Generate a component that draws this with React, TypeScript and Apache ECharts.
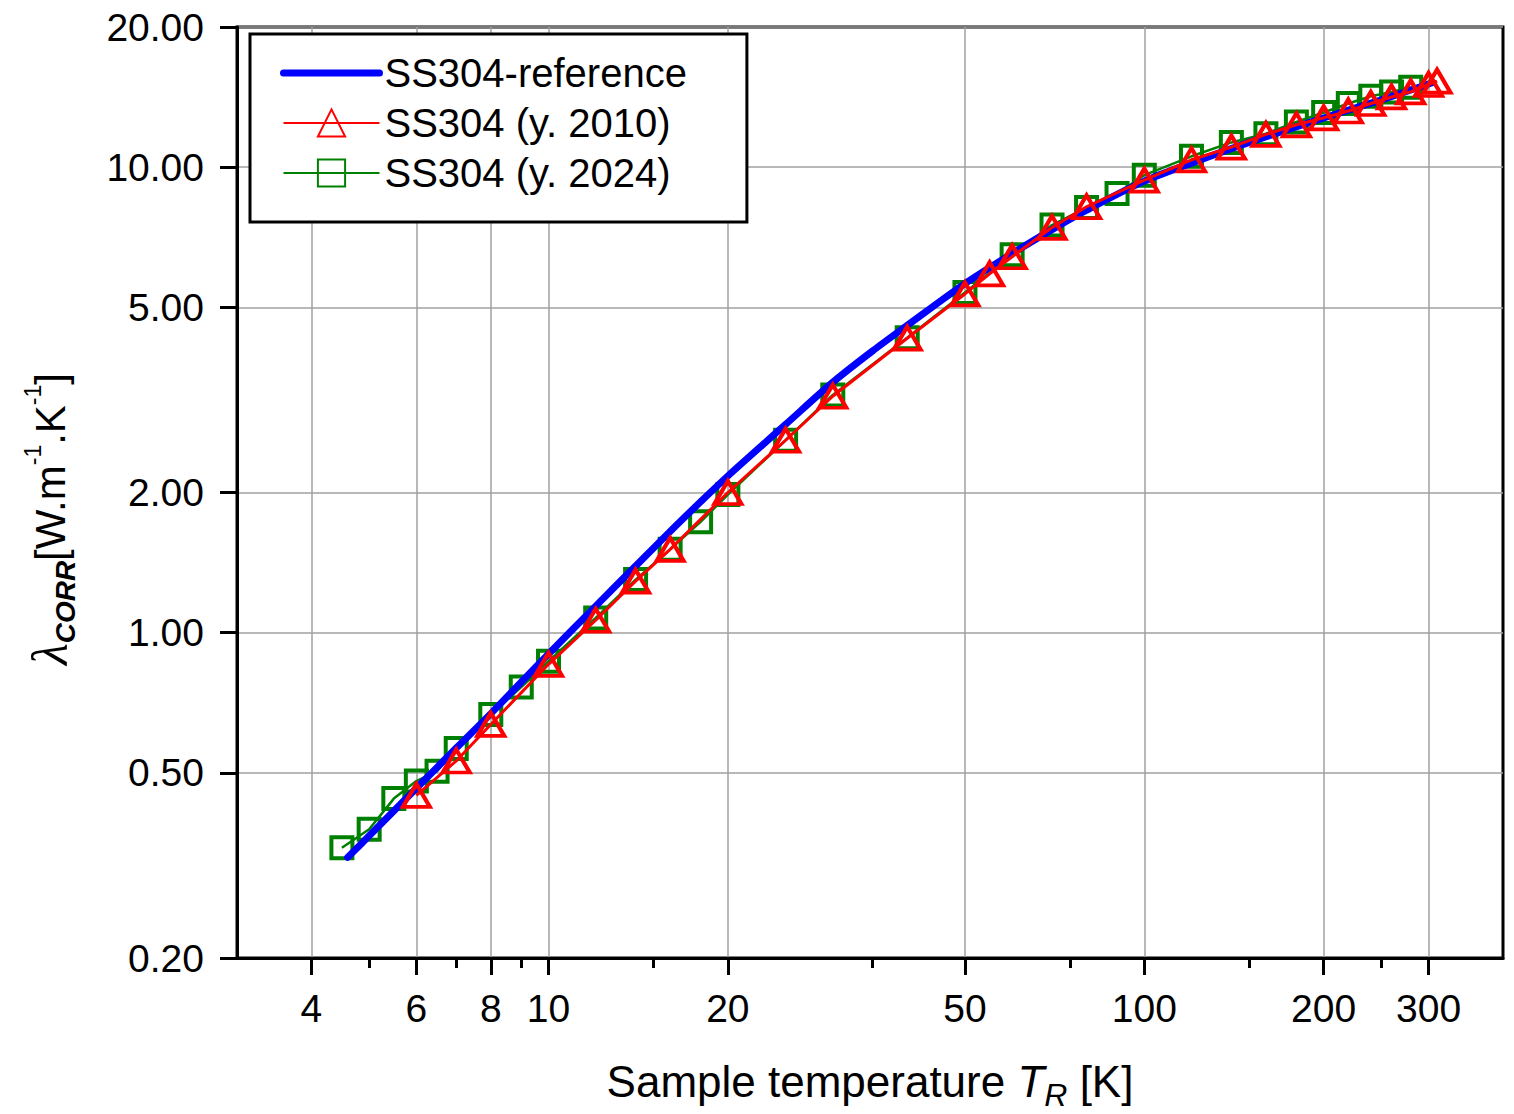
import React, { useEffect, useRef } from 'react';
import * as echarts from 'echarts';

// SS304 reference curve (temperature K, conductivity W/m/K)
const refT = [4.6, 5, 6, 7, 8, 10, 12, 14, 16, 18, 20, 25, 30, 35, 40, 50, 60, 70, 80, 100, 120, 150, 200, 250, 305];
const refV = [0.329, 0.366, 0.463, 0.565, 0.67, 0.9, 1.14, 1.39, 1.65, 1.91, 2.17, 2.8, 3.45, 4.03, 4.57, 5.62, 6.52, 7.34, 8.08, 9.33, 10.2, 11.3, 12.75, 13.95, 15.2];

// SS304 measured in 2010
const t2010 = [6, 7, 8, 10, 12, 14, 16, 20, 25, 30, 40, 50, 55, 60, 70, 80, 100, 120, 140, 160, 180, 200, 220, 240, 260, 280, 300, 310];
const v2010 = [0.447, 0.53, 0.635, 0.855, 1.063, 1.29, 1.51, 2.0, 2.59, 3.22, 4.29, 5.34, 5.9, 6.42, 7.42, 8.22, 9.38, 10.37, 11.04, 11.76, 12.33, 12.76, 13.2, 13.7, 14.15, 14.51, 15.05, 15.3];

// SS304 measured in 2024
const t2024 = [4.5, 5, 5.5, 6, 6.5, 7, 8, 9, 10, 12, 14, 16, 18, 20, 25, 30, 40, 50, 60, 70, 80, 90, 100, 120, 140, 160, 180, 200, 220, 240, 260, 280];
const v2024 = [0.345, 0.378, 0.44, 0.48, 0.504, 0.564, 0.667, 0.764, 0.868, 1.075, 1.3, 1.51, 1.73, 1.98, 2.59, 3.24, 4.3, 5.38, 6.48, 7.51, 8.19, 8.78, 9.61, 10.55, 11.3, 11.8, 12.5, 13.1, 13.7, 14.2, 14.5, 14.85];

const xMajorTicks = [4, 6, 8, 10, 20, 50, 100, 200, 300];
const xMinorTicks = [5, 7, 9, 15, 35, 75, 150, 250];
const yTicks = [0.2, 0.5, 1, 2, 5, 10, 20];

const FONT = '"Liberation Sans", Arial, Helvetica, sans-serif';

function pairs(xs: number[], ys: number[]) {
  return xs.map((x, i) => [x, ys[i]]);
}

export default function App() {
  const ref = useRef<HTMLDivElement>(null);
  useEffect(() => {
    const chart = echarts.init(ref.current!, null, { renderer: 'svg' });
    const gridRect = { left: 237, top: 27, right: 11, bottom: 156 };
    chart.setOption({
      animation: false,
      backgroundColor: '#ffffff',
      grid: [
        { ...gridRect, show: true, borderColor: '#000', borderWidth: 3, backgroundColor: 'transparent', containLabel: false },
        { ...gridRect, show: false, containLabel: false },
      ],
      xAxis: [
        {
          type: 'log', logBase: 10, min: 3, max: 400, gridIndex: 0, position: 'bottom',
          axisLine: { show: true, lineStyle: { color: '#000', width: 3 } },
          axisTick: { show: true, inside: false, length: 17, customValues: xMajorTicks, lineStyle: { color: '#000', width: 3 } },
          axisLabel: {
            show: true, customValues: xMajorTicks, formatter: (v: number) => String(Math.round(v)),
            fontSize: 39, color: '#000', fontFamily: FONT, margin: 31,
          },
          splitLine: { show: true, lineStyle: { color: '#a0a0a0', width: 1.5 } },
          minorTick: { show: false }, minorSplitLine: { show: false },
        },
        {
          type: 'log', logBase: 10, min: 3, max: 400, gridIndex: 1, position: 'bottom',
          axisLine: { show: false },
          axisTick: { show: true, inside: false, length: 10, customValues: xMinorTicks, lineStyle: { color: '#000', width: 3 } },
          axisLabel: { show: false },
          splitLine: { show: false },
        },
      ],
      yAxis: [
        {
          type: 'log', logBase: 10, min: 0.2, max: 20, gridIndex: 0, position: 'left',
          axisLine: { show: true, lineStyle: { color: '#000', width: 3 } },
          axisTick: { show: true, inside: false, length: 17, customValues: yTicks, lineStyle: { color: '#000', width: 3 } },
          axisLabel: {
            show: true, customValues: yTicks, formatter: (v: number) => v.toFixed(2),
            fontSize: 39, color: '#000', fontFamily: FONT, margin: 33,
          },
          splitLine: { show: true, lineStyle: { color: '#a0a0a0', width: 1.5 } },
          minorTick: { show: false }, minorSplitLine: { show: false },
        },
        {
          type: 'log', logBase: 10, min: 0.2, max: 20, gridIndex: 1, show: false,
        },
      ],
      legend: {
        show: true,
        orient: 'vertical',
        left: 250, top: 34,
        padding: [19, 60, 29, 30],
        itemGap: 10,
        itemWidth: 96,
        itemHeight: 34,
        borderColor: '#000', borderWidth: 3, backgroundColor: '#fff',
        textStyle: { fontSize: 40, color: '#000', fontFamily: FONT },
        data: [
          { name: 'SS304-reference', itemStyle: { opacity: 0 }, lineStyle: { width: 7, cap: 'round' } },
          { name: 'SS304 (y. 2010)' },
          { name: 'SS304 (y. 2024)' },
        ],
      },
      graphic: [
        {
          type: 'text', x: 870, y: 1081, z: 100,
          style: {
            text: '{a|Sample temperature }{i|T}{s|R}{a| [K]}',
            align: 'center', verticalAlign: 'middle',
            rich: {
              a: { fontSize: 44, fontFamily: FONT, fill: '#000', lineHeight: 60 },
              i: { fontSize: 44, fontFamily: FONT, fontStyle: 'italic', fill: '#000', lineHeight: 60 },
              s: { fontSize: 32, fontFamily: FONT, fontStyle: 'italic', fill: '#000', verticalAlign: 'bottom' },
            },
          },
        },
        {
          type: 'text', x: 50, y: 519, rotation: Math.PI / 2, z: 100,
          style: {
            text: '{l|λ}{c|CORR}{a|[W.m}{p|-1}{a|.K}{p|-1}{a|]}',
            align: 'center', verticalAlign: 'middle',
            rich: {
              l: { fontSize: 50, fontFamily: '"Liberation Serif", "DejaVu Serif", serif', fontStyle: 'italic', fill: '#000', lineHeight: 58 },
              c: { fontSize: 28, fontFamily: FONT, fontStyle: 'italic', fontWeight: 'bold', fill: '#000', verticalAlign: 'bottom' },
              a: { fontSize: 42, fontFamily: FONT, fill: '#000', lineHeight: 58 },
              p: { fontSize: 23, fontFamily: FONT, fill: '#000', verticalAlign: 'top' },
            },
          },
        },
      ],
      series: [
        {
          name: 'SS304-reference', type: 'line', xAxisIndex: 0, yAxisIndex: 0,
          data: pairs(refT, refV), smooth: 0.3, symbol: 'none', showSymbol: false,
          lineStyle: { color: '#0000ff', width: 7, cap: 'round' },
          itemStyle: { color: '#0000ff' }, z: 3,
        },
        {
          name: 'SS304 (y. 2010)', type: 'line', xAxisIndex: 0, yAxisIndex: 0,
          data: pairs(t2010, v2010), symbol: 'triangle', symbolSize: [27, 23],
          lineStyle: { color: '#ff0000', width: 3 },
          itemStyle: { color: 'rgba(255,255,255,0)', borderColor: '#ff0000', borderWidth: 4 }, z: 4,
        },
        {
          name: 'SS304 (y. 2024)', type: 'line', xAxisIndex: 0, yAxisIndex: 0,
          data: pairs(t2024, v2024), symbol: 'rect', symbolSize: 21,
          lineStyle: { color: '#008000', width: 2.5 },
          itemStyle: { color: 'rgba(255,255,255,0)', borderColor: '#008000', borderWidth: 4 }, z: 2,
        },
      ],
    });
    return () => chart.dispose();
  }, []);
  return <div ref={ref} style={{ position: 'fixed', left: 0, top: 0, width: 1514, height: 1114 }} />;
}
